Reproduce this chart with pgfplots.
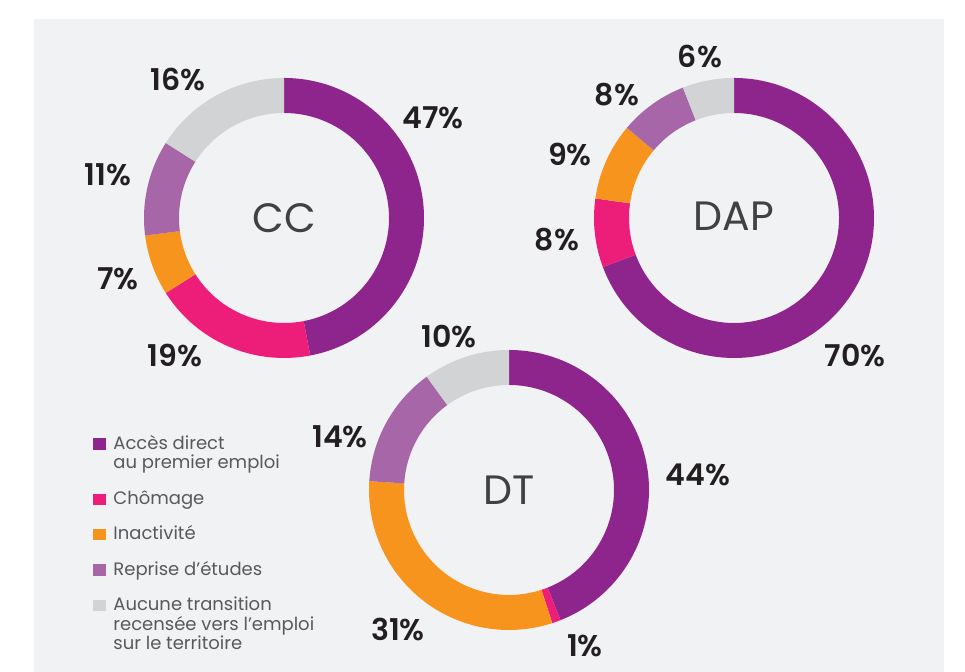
\documentclass[border=0pt]{standalone}
\usepackage{pgfplots}
\usepackage{pgfplotstable}
\pgfplotsset{compat=1.18}
\usepackage{fontspec}
\setmainfont{Poppins}
\newfontfamily\medfont{Poppins SemiBold}

\definecolor{panel}{HTML}{F1F2F4}
\definecolor{acces}{HTML}{8E258D}
\definecolor{chomage}{HTML}{ED1E79}
\definecolor{inact}{HTML}{F7941D}
\definecolor{reprise}{HTML}{A766A8}
\definecolor{aucune}{HTML}{D1D3D4}
\definecolor{txtdark}{HTML}{231F20}
\definecolor{ctrgray}{HTML}{414042}
\definecolor{leggray}{HTML}{58595B}

% share (%), colour, label position (reference pixels, y downwards)
\pgfplotstableread{
val col lx ly
47 acces 433 118
19 chomage 175 356
7 inact 118 279
11 reprise 108 175
16 aucune 178 80
}\ccdata
\pgfplotstableread{
val col lx ly
70 acces 855 356
8 chomage 557 240
9 inact 570 155
8 reprise 617 95
6 aucune 700 57
}\dapdata
\pgfplotstableread{
val col lx ly
44 acces 698 475
1 chomage 585 646
31 inact 398 630
14 reprise 340 437
10 aucune 449 337
}\dtdata

\tikzset{
  pct/.style={font=\medfont\fontsize{15}{18}\selectfont, text=txtdark},
  ctr/.style={font=\fontsize{20.5}{24}\selectfont, text=ctrgray},
  leg/.style={font=\fontsize{9}{11}\selectfont, text=leggray, anchor=base west, inner sep=0pt},
}

% ring from a table, centred at (#2,#3) in reference pixels
\newcommand\donut[3]{%
  \pgfplotstablegetrowsof{#1}%
  \pgfmathtruncatemacro\lastrow{\pgfplotsretval-1}%
  % total of the shares (the rounded values need not add up to 100)
  \gdef\total{0}%
  \foreach \i in {0,...,\lastrow}{%
    \pgfplotstablegetelem{\i}{val}\of#1%
    \pgfmathsetmacro\newtot{\total+\pgfplotsretval}\global\let\total\newtot
  }%
  \pgfmathsetmacro\degper{360/\total}%
  \gdef\cum{0}%
  \foreach \i in {0,...,\lastrow}{%
    \pgfplotstablegetelem{\i}{val}\of#1\let\sval\pgfplotsretval
    \pgfplotstablegetelem{\i}{col}\of#1\let\scol\pgfplotsretval
    \pgfplotstablegetelem{\i}{lx}\of#1\let\lx\pgfplotsretval
    \pgfplotstablegetelem{\i}{ly}\of#1\let\ly\pgfplotsretval
    \pgfmathsetmacro\angA{90-\degper*\cum}%
    \pgfmathsetmacro\angB{90-\degper*(\cum+\sval)}%
    \pgfmathsetmacro\cy{672-#3}%
    \pgfmathsetmacro\lyy{672-\ly}%
    \pgfmathtruncatemacro\pv{\sval}%
    \edef\temp{\noexpand\fill[\scol] (axis cs:#2,\cy) ++(\angA:70pt)
      arc[start angle=\angA,end angle=\angB,radius=70pt] -- ++(\angB:-17.5pt)
      arc[start angle=\angB,end angle=\angA,radius=52.5pt] -- cycle;
      \noexpand\node[pct] at (axis cs:\lx,\lyy) {\pv\noexpand\%};}%
    \temp
    \pgfmathsetmacro\newcum{\cum+\sval}\global\let\cum\newcum
  }%
}

\begin{document}
\begin{tikzpicture}
\begin{axis}[
    hide axis,
    x=0.5pt, y=0.5pt,
    xmin=0, xmax=965, ymin=0, ymax=672,
    scale only axis,
    clip=false,
]
\fill[white] (axis cs:0,0) rectangle (axis cs:965,672);
\fill[panel] (axis cs:34,0) rectangle (axis cs:944,653);

\donut{\ccdata}{284}{218}
\donut{\dapdata}{734}{218}
\donut{\dtdata}{509}{490}

\node[ctr] at (axis cs:284,454) {CC};
\node[ctr] at (axis cs:734,456) {DAP};
\node[ctr] at (axis cs:509,182) {DT};

% legend
\fill[acces]   (axis cs:93,222) rectangle (axis cs:106,234);
\fill[chomage] (axis cs:93,167) rectangle (axis cs:106,178);
\fill[inact]   (axis cs:93,132) rectangle (axis cs:106,143);
\fill[reprise] (axis cs:93,96)  rectangle (axis cs:106,108);
\fill[aucune]  (axis cs:93,61)  rectangle (axis cs:106,72);
\node[leg] at (axis cs:113,222) {Accès direct};
\node[leg] at (axis cs:113,203) {au premier emploi};
\node[leg] at (axis cs:113,167) {Chômage};
\node[leg] at (axis cs:113,132) {Inactivité};
\node[leg] at (axis cs:113,96)  {Reprise d’études};
\node[leg] at (axis cs:113,61)  {Aucune transition};
\node[leg] at (axis cs:113,41)  {recensée vers l’emploi};
\node[leg] at (axis cs:113,22)  {sur le territoire};
\end{axis}
\end{tikzpicture}
\end{document}
